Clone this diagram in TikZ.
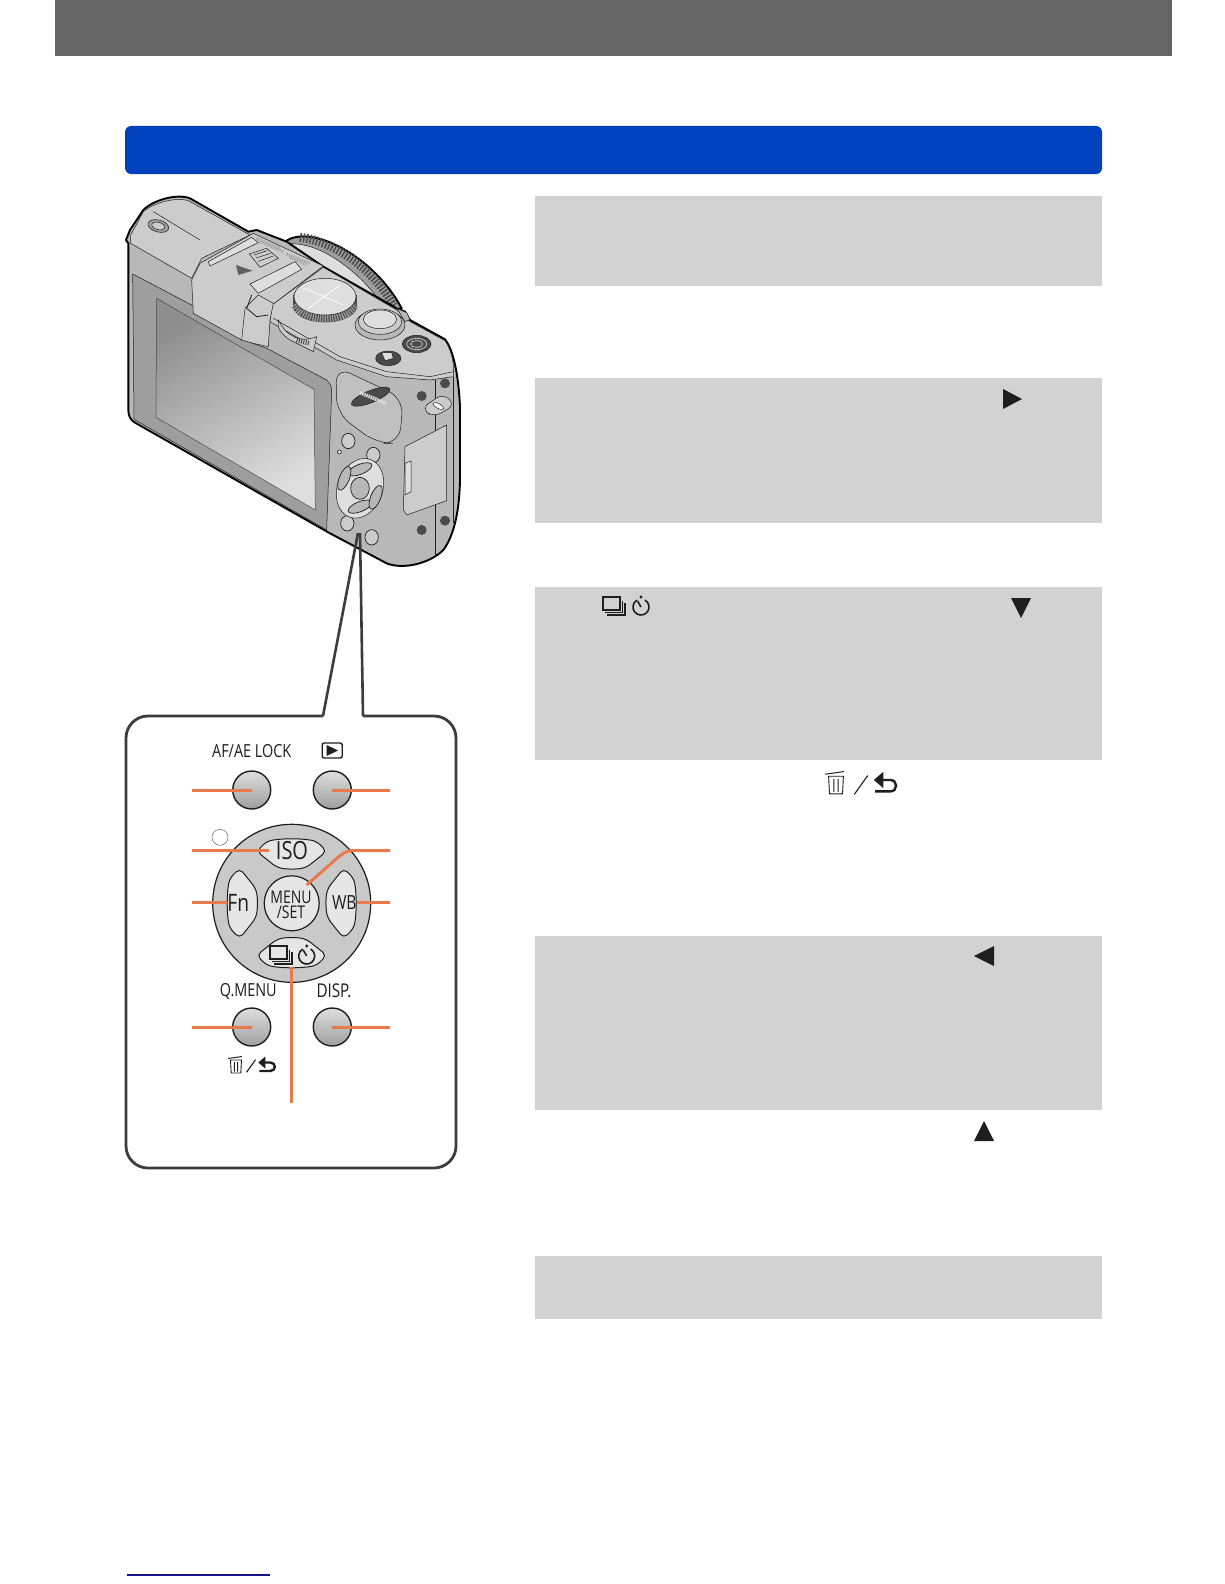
\documentclass[tikz,border=0pt]{standalone}
\usepackage{fontspec}
\setmainfont[FakeStretch=0.8]{Open Sans}
\definecolor{topbar}{HTML}{666565}
\definecolor{bluebar}{HTML}{0041BE}
\definecolor{graybox}{HTML}{D2D2D2}
\definecolor{leader}{HTML}{E87A4C}
\definecolor{frameink}{HTML}{3C3C3C}
\definecolor{linkblue}{HTML}{14148C}
\definecolor{keyfill}{HTML}{E6E6E6}
\definecolor{dialfill}{HTML}{C9C9C9}
\definecolor{ink}{HTML}{1E1E1E}
\definecolor{cambody}{HTML}{B8B8B8}
\definecolor{camlight}{HTML}{CCCCCC}
\definecolor{camlighter}{HTML}{DEDEDE}
\definecolor{cammid}{HTML}{9E9E9E}
\definecolor{camdark}{HTML}{4A4A4A}
\tikzset{
  x=1pt,y=-1pt,
  panel/.style={fill=graybox,draw=none},
  leaderline/.style={draw=leader,line width=3pt},
  lbl/.style={inner sep=0pt,text=ink},
  cedge/.style={draw=ink,line width=0.5pt},
  cout/.style={draw=black,line width=1.9pt,line join=round},
  cbtn/.style={draw=ink,line width=0.7pt,fill=camlight},
  roundbtn/.style={circle,minimum size=38pt,inner sep=0pt,draw=ink,line width=1.4pt,top color=camlighter,bottom color=cammid},
  dialkey/.pic={\path[draw=ink,line width=1pt,fill=keyfill,rounded corners=5pt]
     (-35,-52) -- (-25,-62) .. controls (-10,-65) and (10,-65) .. (25,-62) -- (35,-52) -- (15,-36) .. controls (5,-34) and (-5,-34) .. (-15,-36) -- cycle;},
  trashicon/.pic={\draw[ink,line width=1pt] (-8,-6.5) -- (6,-8.5);
     \draw[ink,line width=0.9pt] (-5.5,-5) -- (-4.8,8) -- (4.8,8) -- (5.5,-5) -- cycle (-1.6,-3) -- (-1.6,6.5) (1.6,-3) -- (1.6,6.5);},
  slashicon/.pic={\draw[ink,line width=1.1pt] (-5,7) -- (5,-7);},
  returnicon/.pic={\draw[ink,line width=2.4pt] (-4,-3) -- (3,-3) .. controls (9,-3) and (9,5.5) .. (3,5.5) -- (-8,5.5);
     \fill[ink] (-9,-3) -- (-2,-9) -- (-2,3) -- cycle;},
  bursticon/.pic={\draw[ink,line width=1.2pt] (-11,-9) rectangle (6,4);
     \draw[ink,line width=1.2pt] (-9,6.5) -- (8.5,6.5) -- (8.5,-5) (-7,9) -- (11,9) -- (11,-3);},
  timericon/.pic={\draw[ink,line width=1.6pt] (4,-5.9) arc[start angle=-60,end angle=240,radius=8];
     \draw[ink,line width=1.6pt] (0,1) -- (-3.5,-5);
     \fill[ink] (0,-9) circle[radius=1.6];},
  tri/.style={fill=ink,draw=none}
}
\begin{document}
\begin{tikzpicture}
\useasboundingbox (0,0) rectangle (1224,1584);
\fill[white] (0,0) rectangle (1224,1584);
% page furniture
\fill[topbar] (55,0) rectangle (1172,56);
\fill[bluebar,rounded corners=6pt] (125,126) rectangle (1102,174);
\fill[panel] (535,196) rectangle (1102,286);
\fill[panel] (535,378) rectangle (1102,523);
\fill[panel] (535,587) rectangle (1102,760);
\fill[panel] (535,936) rectangle (1102,1110);
\fill[panel] (535,1256) rectangle (1102,1319);
\draw[linkblue,line width=1.5pt] (127,1575) -- (270,1575);
% inline symbols
\fill[tri] (1003,389) -- (1003,409) -- (1022,399) -- cycle;
\fill[tri] (1011,598) -- (1031,598) -- (1021,618) -- cycle;
\fill[tri] (994,946) -- (994,966) -- (974,956) -- cycle;
\fill[tri] (974,1141) -- (994,1141) -- (984,1121) -- cycle;
\pic at (614,606) {bursticon};
\pic at (641,606) {timericon};
\pic[scale=1.35] at (836,783) {trashicon};
\pic[scale=1.35] at (861,785) {slashicon};
\pic[scale=1.35] at (886,784) {returnicon};

% ---------- camera ----------
\begin{scope}[shift={(110pt,-180pt)},x=0.33333pt,y=-0.33333pt]
  % lens ring
  \path[cout,fill=cammid] (525,185) .. controls (600,130) and (790,225) .. (875,385) -- (700,420) -- cycle;
  \draw[camdark,line width=9pt,dash pattern=on 1.5pt off 1.8pt] (570,172) .. controls (680,185) and (790,270) .. (852,376);
  \path[cedge,fill=camlighter] (530,192) .. controls (620,182) and (740,262) .. (822,380) -- (650,400) -- cycle;
  % body silhouette
  \path[cout,fill=cambody] (48,180) -- (60,150) -- (100,90) .. controls (130,60) and (200,40) .. (240,55) -- (415,155) -- (440,150) -- (530,185) -- (640,260) -- (860,385) -- (885,395) -- (900,420) -- (1005,478) .. controls (1030,510) and (1045,580) .. (1050,680) -- (1050,900) .. controls (1048,1000) and (1030,1070) .. (1000,1110) .. controls (960,1150) and (880,1170) .. (830,1150) -- (660,1060) -- (75,728) .. controls (60,720) and (55,705) .. (55,690) -- (55,190) -- cycle;
  % tilting top flap
  \path[cedge,fill=camlight] (62,165) -- (100,95) .. controls (130,68) and (200,50) .. (235,62) -- (420,165) -- (275,235) -- (245,295) -- (62,190) -- cycle;
  \draw[cedge] (130,95) -- (270,180);
  \path[cedge,fill=cammid] (145,138) ellipse[x radius=32,y radius=18,rotate=-15];
  \path[cedge,fill=camlight] (145,138) ellipse[x radius=20,y radius=11,rotate=-15];
  % monitor frame and screen
  \path[cedge,fill=cammid] (68,282) -- (245,375) -- (395,478) -- (470,505) -- (650,600) .. controls (662,612) and (665,620) .. (665,635) -- (650,1050) -- (72,718) -- cycle;
  \shade[draw=camdark,line width=0.5pt,top color=cammid!90!black,bottom color=camlighter,shading angle=30] (140,355) -- (612,628) -- (616,990) -- (138,712) -- cycle;
  % top deck
  \path[cedge,fill=camlight] (485,375) -- (640,262) -- (860,390) -- (900,425) -- (1005,482) .. controls (1030,520) and (1032,560) .. (1030,590) -- (960,600) -- (830,590) -- (680,540) -- (480,425) -- cycle;
  \draw[cedge] (490,415) -- (690,530) -- (830,575) -- (960,590) -- (1030,575);
  % viewfinder
  \path[cedge,fill=camlight] (245,300) -- (270,250) -- (430,160) -- (640,258) -- (490,372) -- (430,400) -- (395,480) -- (250,400) -- cycle;
  \path[cedge,fill=camlighter] (295,245) -- (425,172) -- (445,188) -- (300,258) -- cycle;
  \path[cedge,fill=camlighter] (420,312) -- (555,245) -- (575,268) -- (445,340) -- cycle;
  \draw[cammid,line width=3pt,dash pattern=on 1pt off 1.4pt] (440,175) -- (510,205) (450,185) -- (520,215) (530,222) -- (600,250) (540,232) -- (590,255);
  \path[cedge,fill=camlight] (418,222) -- (470,205) -- (505,235) -- (450,262) -- cycle (432,225) -- (472,212) (438,234) -- (482,220) (445,244) -- (490,228);
  \fill[ink!70] (378,255) -- (428,272) -- (385,285) -- cycle;
  \path[cedge,fill=camlight] (405,385) -- (445,345) -- (490,370) -- (480,420) -- (475,500) -- (430,490) -- (395,480) -- cycle;
  \draw[ink,line width=0.8pt] (425,345) -- (410,385) -- (440,410) -- (475,405);
  % left wheel
  \path[cedge,fill=camlight] (505,420) .. controls (530,470) and (570,490) .. (620,470) -- (610,515) -- (540,480) .. controls (510,460) and (500,440) .. (505,420) -- cycle;
  \draw[camdark,line width=5pt,dash pattern=on 1pt off 1.3pt] (560,480) -- (600,490);
  % mode dial
  \path[cedge,fill=camdark] (645,378) ellipse[x radius=95,y radius=48];
  \fill[camdark] (550,345) rectangle (740,378);
  \draw[cammid,line width=11pt,dash pattern=on 1.2pt off 1.2pt] (556,372) .. controls (590,425) and (700,425) .. (734,372);
  \path[cedge,fill=camlighter] (645,350) ellipse[x radius=93,y radius=55];
  \draw[white,line width=0.8pt] (585,325) -- (700,375) (690,315) -- (595,385);
  % shutter button
  \path[cedge,fill=cambody] (810,435) ellipse[x radius=75,y radius=45];
  \path[cedge,fill=camlight] (810,425) ellipse[x radius=65,y radius=38];
  \path[cedge,fill=camlighter] (810,418) ellipse[x radius=50,y radius=28];
  \path[cedge,fill=cambody] (860,385) -- (890,398) -- (900,418) -- (885,425) -- (870,400) -- cycle;
  % thumb button and switch
  \path[cedge,fill=camdark] (920,492) ellipse[x radius=43,y radius=26];
  \path[draw=camlight,line width=0.7pt] (920,492) ellipse[x radius=30,y radius=17] (920,492) ellipse[x radius=18,y radius=10];
  \path[cedge,fill=camdark] (835,535) ellipse[x radius=38,y radius=22];
  \path[cedge,fill=camlighter] (815,518) -- (845,518) -- (850,535) -- (825,542) -- cycle;
  % rear wheel panel
  \path[cedge,fill=cambody!60!camlight,rounded corners=16pt] (678,560) -- (880,655) -- (868,790) -- (800,790) -- (680,700) -- cycle;
  \path[cedge,fill=camdark] (782,650) ellipse[x radius=62,y radius=18,rotate=22];
  \draw[camlighter,line width=3.6pt,dash pattern=on 1.5pt off 0.8pt] (750,638) -- (828,670);
  % grip, screws, eyelet
  \draw[cedge] (975,600) -- (975,1130) (1030,590) -- (1030,1030);
  \path[cedge,fill=camlight,rounded corners=8pt] (935,685) -- (1000,640) -- (1035,675) -- (970,712) -- cycle;
  \path[cedge,fill=white] (985,678) ellipse[x radius=18,y radius=7,rotate=-28];
  \foreach \sx/\sy in {935/648,1005/610,1005/1022,935/1050}
    \fill[camdark] (\sx,\sy) ellipse[x radius=15,y radius=15];
  % door
  \path[cedge,fill=camlight] (885,800) -- (1010,735) -- (1010,962) -- (890,1005) -- (880,990) -- cycle;
  \path[cedge,fill=camlighter] (885,850) -- (903,843) -- (903,935) -- (885,945) -- cycle;
  % rear buttons
  \foreach \bx/\by in {715/783,790/825,712/1030,785/1072}
    \path[cbtn] (\bx,\by) ellipse[x radius=20,y radius=23];
  \path[cedge,fill=camlighter] (688,816) circle[radius=6];
  \path[cedge,fill=camlighter] (750,925) ellipse[x radius=68,y radius=92,rotate=-20];
  \path[cbtn,fill=cambody] (750,868) ellipse[x radius=38,y radius=15,rotate=22];
  \path[cbtn,fill=cambody] (750,980) ellipse[x radius=38,y radius=15,rotate=22];
  \path[cbtn,fill=cambody] (703,895) ellipse[x radius=15,y radius=38,rotate=-22];
  \path[cbtn,fill=cambody] (797,952) ellipse[x radius=15,y radius=38,rotate=-22];
  \path[cbtn,fill=cambody] (750,925) ellipse[x radius=28,y radius=33];
\end{scope}

% ---------- callout ----------
\coordinate (tipL) at (358,533);
\coordinate (tipR) at (360,533);
\coordinate (gapL) at (323,716);
\coordinate (gapR) at (363,716);
\draw[frameink,line width=2.8pt,rounded corners=22pt,line join=round] (gapL) -- (126,716) -- (126,1168) -- (456,1168) -- (456,716) -- (gapR);
\draw[frameink,line width=2.6pt] (gapL) -- (tipL);
\draw[frameink,line width=2.6pt] (gapR) -- (tipR);

\node[circle,minimum size=158pt,inner sep=0pt,draw=ink,line width=1.2pt,fill=dialfill] (dial) at (291.7,903.3) {};
\foreach \a in {0,90,180,270} \pic[rotate=\a] at (dial.center) {dialkey};
\node[circle,minimum size=55pt,inner sep=0pt,draw=ink,line width=1.2pt,fill=keyfill] (menu) at (dial.center) {};
\node[circle,minimum size=16pt,inner sep=0pt,draw=ink!60,line width=0.6pt,fill=white] (dot) at (220,837.3) {};

\node[roundbtn] (afbtn) at (251.7,790) {};
\node[roundbtn] (playbtn) at (332.3,790) {};
\node[roundbtn] (qbtn) at (251.7,1027) {};
\node[roundbtn] (dispbtn) at (332.3,1027) {};

\node[lbl,font=\fontsize{18}{20}\selectfont] (aflabel) at (251.7,750.7) {AF/AE LOCK};
\node[lbl,font=\fontsize{18}{20}\selectfont] (qlabel) at (248.3,991) {Q.MENU};
\node[lbl,font=\fontsize{19}{20}\selectfont] (displabel) at (334,991) {DISP.};
\node[lbl,font=\fontsize{25}{26}\selectfont] (iso) at (292,851) {ISO};
\node[lbl,font=\fontsize{24}{26}\selectfont] (fn) at (238.3,902.7) {Fn};
\node[lbl,font=\fontsize{19.5}{20}\selectfont] (wb) at (344.3,902.7) {WB};
\node[lbl,font=\fontsize{17.5}{14.5}\selectfont,align=center] (menulabel) at (291,905) {MENU\\/SET};

\node[draw=ink,line width=1.4pt,rounded corners=2pt,minimum width=20pt,minimum height=15pt,inner sep=0pt] (playicon) at (332.2,750.5) {};
\fill[tri] (326.5,745) -- (326.5,756) -- (338,750.5) -- cycle;

\pic at (236,1065) {trashicon};
\pic[scale=0.9] at (251,1066) {slashicon};
\pic at (267.3,1065.5) {returnicon};
\pic at (281,955) {bursticon};
\pic at (306.7,955) {timericon};

% orange leaders
\coordinate (l1) at (192.3,790);
\coordinate (r1) at (390,790);
\coordinate (l2) at (192.3,850.5);
\coordinate (isoend) at (268.5,850.5);
\coordinate (r2) at (390,850.5);
\coordinate (l3) at (192.3,902.7);
\coordinate (r3) at (390,902.7);
\coordinate (l4) at (192.3,1027);
\coordinate (r4) at (390,1027);
\coordinate (menutip) at (306.7,885);
\coordinate (contop) at (291.7,966.7);
\coordinate (conend) at (291.7,1103.3);
\draw[leaderline] (l1) -- (afbtn.center);
\draw[leaderline] (r1) -- (playbtn.center);
\draw[leaderline] (l2) -- (isoend);
\draw[leaderline] (l3) -- (fn.west);
\draw[leaderline] (r3) -- (wb.east);
\draw[leaderline] (l4) -- (qbtn.center);
\draw[leaderline] (r4) -- (dispbtn.center);
\draw[leaderline] (r2) -- (354,850.5) .. controls (345,850.5) and (342,854) .. (335,860) -- (menutip);
\draw[leaderline] (conend) -- (contop);
\end{tikzpicture}
\end{document}
